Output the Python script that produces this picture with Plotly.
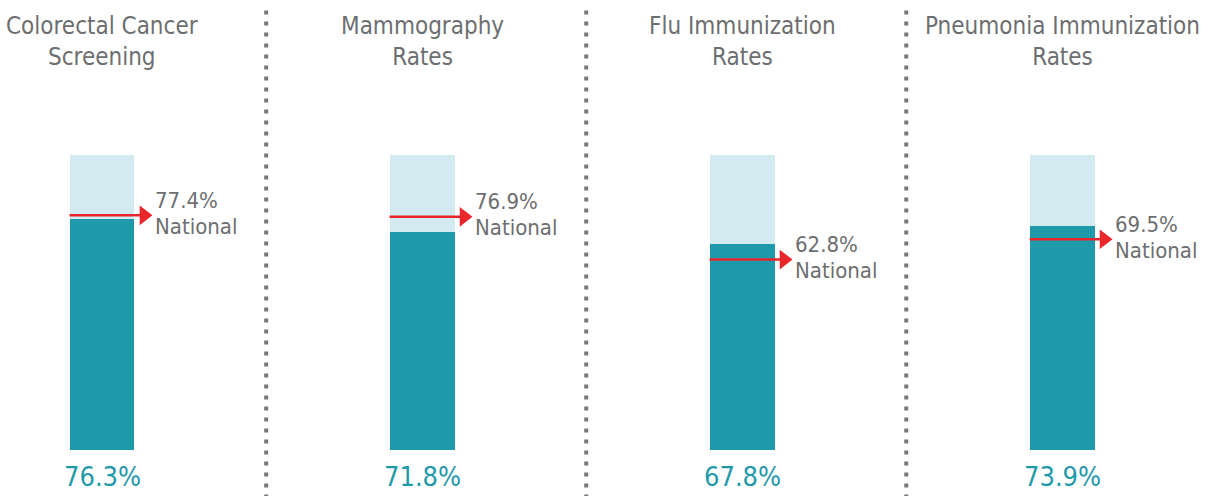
import plotly.graph_objects as go

categories = ["Colorectal Cancer<br>Screening", "Mammography<br>Rates",
              "Flu Immunization<br>Rates", "Pneumonia Immunization<br>Rates"]
local_values = [76.3, 71.8, 67.8, 73.9]
national_values = [77.4, 76.9, 62.8, 69.5]
full_scale = [100, 100, 100, 100]

TEAL = "#1f9aab"
LIGHT = "#d3ebf0"
RED = "#e8262b"
GRAY = "#6d6e70"
FONT = "DejaVu Sans Condensed, Liberation Sans Narrow, sans-serif"

xs = list(range(len(categories)))
bw = 0.203

fig = go.Figure()
fig.add_trace(go.Bar(x=xs, y=full_scale, width=bw, marker=dict(color=LIGHT, line=dict(width=0)),
                     hoverinfo="skip", showlegend=False))
fig.add_trace(go.Bar(x=xs, y=local_values, width=bw, marker=dict(color=TEAL, line=dict(width=0)),
                     showlegend=False))

for i, nat in enumerate(national_values):
    fig.add_trace(go.Scatter(x=[i - bw / 2, i + 0.12], y=[nat, nat], mode="lines",
                             line=dict(color=RED, width=2.5), showlegend=False, hoverinfo="skip"))
    fig.add_trace(go.Scatter(x=[i + 0.131], y=[nat], mode="markers",
                             marker=dict(symbol="triangle-right", size=17, color=RED),
                             showlegend=False, hoverinfo="skip"))
    fig.add_annotation(x=i + 0.158, y=nat, xref="x", yref="y", text=f"{nat:.1f}%",
                       showarrow=False, xanchor="left", yanchor="middle", yshift=15,
                       font=dict(family=FONT, size=22, color=GRAY))
    fig.add_annotation(x=i + 0.158, y=nat, xref="x", yref="y", text="National",
                       showarrow=False, xanchor="left", yanchor="middle", yshift=-11,
                       font=dict(family=FONT, size=22, color=GRAY))

for i, (cat, val) in enumerate(zip(categories, local_values)):
    fig.add_annotation(x=i, y=1, xref="x", yref="paper", text=cat, showarrow=False,
                       xanchor="center", yanchor="top", yshift=145,
                       font=dict(family=FONT, size=24, color=GRAY))
    fig.add_annotation(x=i, y=0, xref="x", yref="paper", text=f"{val:.1f}%", showarrow=False,
                       xanchor="center", yanchor="top", yshift=-9,
                       font=dict(family=FONT, size=27, color=TEAL))

for i in range(len(categories) - 1):
    fig.add_shape(type="line", xref="x", yref="paper", x0=i + 0.513, x1=i + 0.513,
                  y0=1.49, y1=-0.2, line=dict(color="#77787b", width=4, dash="4px,7px"))

fig.update_layout(
    width=1209, height=496, barmode="overlay", bargap=0,
    margin=dict(l=0, r=0, t=155, b=46),
    plot_bgcolor="white", paper_bgcolor="white",
    xaxis=dict(range=[-0.31875, 3.459], visible=False, fixedrange=True),
    yaxis=dict(range=[0, 97.3], visible=False, fixedrange=True),
)

fig.write_html("out.html", config={"displayModeBar": False},
               post_script="document.body.style.margin='0';document.body.style.overflow='hidden';")
